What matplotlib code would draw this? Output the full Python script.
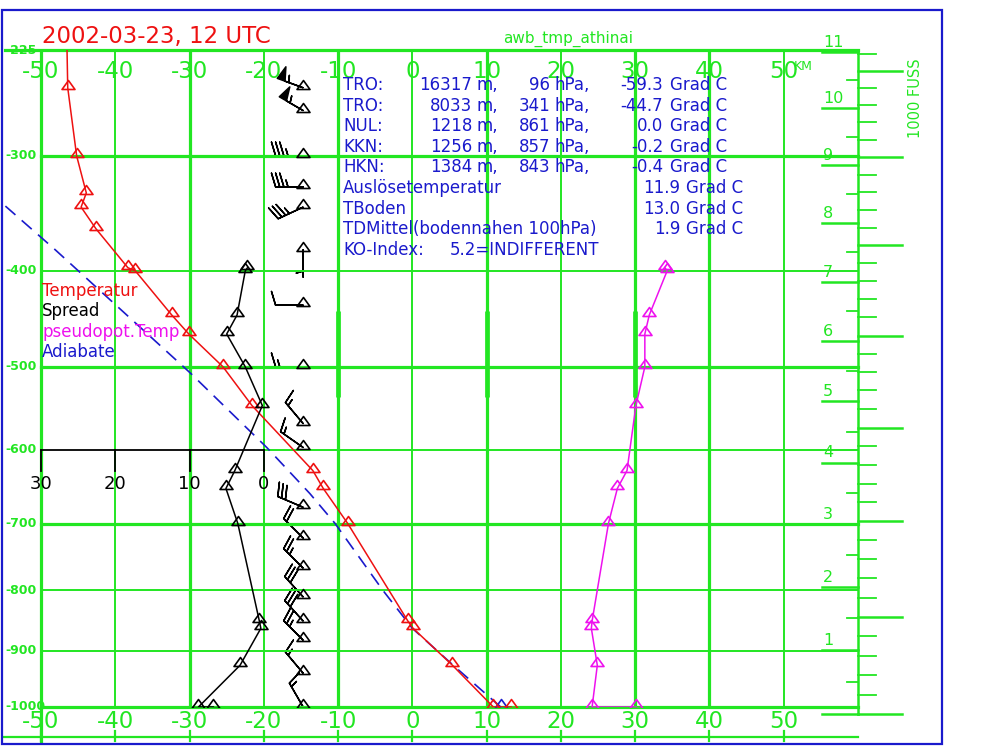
import numpy as np
import matplotlib
matplotlib.use("Agg")
import matplotlib.pyplot as plt
from matplotlib import transforms
from matplotlib.path import Path
from matplotlib.patches import Rectangle

# sounding levels in hPa, first value is the surface (drawn on the 1000 line)
pres = [1000, 1000, 925, 862, 850, 700, 651, 627, 545, 500, 464, 444, 400, 397,
        361, 342, 330, 300, 250, 200]
temp = [13.3, 10.9, 5.4, 0.1, -0.6, -8.7, -12.0, -13.4, -21.6, -25.5, -30.1,
        -32.4, -37.3, -38.3, -42.6, -44.6, -43.9, -45.2, -46.4, -46.6]
spread = [6.8, 8.8, 3.2, 0.4, 0.6, 3.5, 5.1, 3.9, 0.2, 2.5, 5.0, 3.6, 2.5, 2.2]
theta_e = [30.1, 24.2, 24.9, 24.1, 24.2, 26.4, 27.6, 28.9, 30.1, 31.3, 31.3,
           31.9, 34.3, 34.0]

# lifted parcel (Adiabate)
adiab_p = [1000, 925, 862, 800, 700, 658, 597, 507, 380, 340]
adiab_t = [11.9, 5.5, 0.0, -4.0, -10.4, -13.8, -19.6, -29.9, -48.1, -55.0]

# wind
wind_p = [250, 266, 300, 325, 342, 380, 434, 500, 567, 597, 677, 721, 766,
          811, 850, 882, 939, 1000]
wind_dir = [290, 300, 270, 270, 245, 180, 270, 270, 320, 305, 293, 315, 315,
            318, 318, 315, 320, 330]
wind_kt = [55, 55, 35, 35, 35, 5, 10, 15, 15, 15, 30, 20, 25, 30, 30, 25, 15, 15]

info_rows = [
    ("TRO:", "16317", "96", "-59.3"),
    ("TRO:", "8033", "341", "-44.7"),
    ("NUL:", "1218", "861", "0.0"),
    ("KKN:", "1256", "857", "-0.2"),
    ("HKN:", "1384", "843", "-0.4"),
]
extra_rows = [("Auslösetemperatur", "11.9"), ("TBoden", "13.0"),
              ("TDMittel(bodennahen 100hPa)", "1.9")]
ko_text = "5.2=INDIFFERENT"

temp_ticks = list(range(-50, 60, 10))
thick_t = [-50, -30, -10, 10, 30, 40]
pres_lines = [225, 300, 400, 500, 600, 700, 800, 900, 1000]
thick_p = [225, 300, 500, 700, 1000]
spread_ticks = [30, 20, 10, 0]
km_ticks = list(range(0, 12))
kft_ticks = list(range(0, 37))

GREEN = "#22e622"
RED = "#ee1111"
MAG = "#ee11ee"
BLUE = "#1a1acc"

W, H = 1000, 746
fig = plt.figure(figsize=(10, 7.46), dpi=100)
ax = fig.add_axes([41 / W, 1 - 707 / H, 817 / W, 657 / H])


def fwd(p):
    p = np.asarray(p, dtype=float)
    return np.sign(p) * np.abs(p) ** 0.286


def inv(s):
    s = np.asarray(s, dtype=float)
    return np.sign(s) * np.abs(s) ** (1 / 0.286)


ax.set_yscale("function", functions=(fwd, inv))
ax.set_xlim(-50, 60)
ax.set_ylim(1000, 225)
ax.axis("off")


def fy(px):
    return 1 - px / H


def tx(px):
    # pixel column -> temperature axis value
    return -50 + (px - 41) / 7.425


bt = transforms.blended_transform_factory(ax.transData, fig.transFigure)


def h2p(h):
    return 1013.25 * (1 - 2.25577e-5 * h) ** 5.25588


# frame
fig.patches.append(Rectangle((2 / W, fy(744)), 940 / W, 734 / H,
                             transform=fig.transFigure, fill=False,
                             edgecolor=BLUE, lw=1.6))

# temperature grid
for t in temp_ticks:
    lw = 2.3 if t in thick_t else 1.4
    ax.plot([t, t], [225, 1000], color=GREEN, lw=lw, clip_on=False,
            solid_capstyle="butt")
    ax.plot([t, t], [fy(731), fy(741)], color=GREEN, lw=1.6, transform=bt,
            clip_on=False)
    lab = str(t)
    ax.text(t, fy(72), lab, transform=bt, color=GREEN, fontsize=16.5,
            ha="center", va="center")
    ax.text(t, fy(721), lab, transform=bt, color=GREEN, fontsize=16.5,
            ha="center", va="center")
ax.plot([-50, -50], [fy(707), fy(742)], color=GREEN, lw=2.3, transform=bt,
        clip_on=False)
ax.plot([tx(3), 60], [fy(737), fy(737)], color=GREEN, lw=1.6, transform=bt,
        clip_on=False)
ax.text(tx(794), fy(67), "KM", transform=bt, color=GREEN, fontsize=9,
        ha="left", va="center")

# pressure grid
for p in pres_lines:
    lw = 2.3 if p in thick_p else 1.4
    x0 = tx(5) if p == 225 else -50
    if p == 600:
        ax.plot([-20, 60], [p, p], color=GREEN, lw=lw, clip_on=False)
        ax.plot([-50, -20], [p, p], color="black", lw=1.3, clip_on=False)
    else:
        ax.plot([x0, 60], [p, p], color=GREEN, lw=lw, clip_on=False)
    ax.text(tx(5), p, "-%d" % p, color=GREEN, fontsize=9, fontweight="bold",
            ha="left", va="center")

# thick marks on grid lines
for t in [-10, 10, 30]:
    ax.plot([t, t], [440, 535], color=GREEN, lw=3.4, solid_capstyle="butt")

# spread axis (0 spread at -20 C)
for s in spread_ticks:
    ax.plot([-20 - s, -20 - s], [600, 627], color="black", lw=1.3,
            clip_on=False)
    ax.text(-20 - s, 645, str(s), color="black", fontsize=13, ha="center",
            va="center")

# height axis on the right
ax.plot([60, 60], [225, h2p(0)], color=GREEN, lw=1.8, clip_on=False)
for k in km_ticks:
    p = h2p(k * 1000)
    ax.plot([tx(822), 60], [p, p], color=GREEN, lw=1.8, clip_on=False)
    ax.annotate(str(k), (tx(823), p), xytext=(0, 1.5),
                textcoords="offset points", color=GREEN, fontsize=11.5,
                ha="left", va="bottom")
    if k < 11:
        ph = h2p(k * 1000 + 500)
        ax.plot([tx(847), 60], [ph, ph], color=GREEN, lw=1.3, clip_on=False)
for k in kft_ticks:
    p = h2p(k * 304.8)
    if k % 5 == 0:
        ax.plot([60, tx(902)], [p, p], color=GREEN, lw=1.8, clip_on=False)
        ax.annotate(str(k), (tx(898), p), xytext=(0, 1.5),
                    textcoords="offset points", color=GREEN, fontsize=11.5,
                    ha="right", va="bottom")
    else:
        ax.plot([60, tx(876)], [p, p], color=GREEN, lw=1.3, clip_on=False)
fig.text(916 / W, fy(98), "1000 FUSS", color=GREEN, fontsize=10.5,
         rotation=90, ha="center", va="center")

# curves
tri = Path([(0, 1.6), (-1.3, -0.2), (1.3, -0.2), (0, 1.6)],
           [Path.MOVETO, Path.LINETO, Path.LINETO, Path.CLOSEPOLY])
mk = dict(marker=tri, ms=11.5, mfc="none", mew=1.2)

ax.plot(adiab_t, adiab_p, color=BLUE, lw=1.2, dashes=(8, 5), clip_on=False)
ax.plot(adiab_t[:1], adiab_p[:1], ls="none", mec=BLUE, **mk)
ax.plot(temp, pres, color=RED, lw=1.1, mec=RED, **mk)
ax.plot([-20 - s for s in spread], pres[:len(spread)], color="black", lw=1.1,
        mec="black", **mk)
ax.plot(theta_e, pres[:len(theta_e)], color=MAG, lw=1.1, mec=MAG, **mk)

# wind barbs
wx = np.full(len(wind_p), -14.7)
rad = np.deg2rad(wind_dir)
u = -np.array(wind_kt) * np.sin(rad)
v = -np.array(wind_kt) * np.cos(rad)
ax.barbs(wx, wind_p, u, v, length=6.3, pivot="tip", color="black", lw=1.1,
         sizes=dict(height=0.5, spacing=0.15, width=0.3, emptybarb=0.0),
         clip_on=False)
ax.plot(wx, wind_p, ls="none", mec="black", **mk)

# titles
fig.text(42 / W, fy(36), "2002-03-23, 12 UTC", color=RED, fontsize=16.5,
         ha="left", va="center")
fig.text(568 / W, fy(39), "awb_tmp_athinai", color=GREEN, fontsize=11,
         ha="center", va="center")

# legend texts
legend = [("Temperatur", RED), ("Spread", "black"), ("pseudopot.Temp", MAG),
          ("Adiabate", BLUE)]
for i, (name, col) in enumerate(legend):
    fig.text(42 / W, fy(291 + 20.5 * i), name, color=col, fontsize=12,
             ha="left", va="center")

# info block
fs = 12
for i, (lab, m, hpa, t) in enumerate(info_rows):
    y = fy(85 + 20.6 * i)
    fig.text(343 / W, y, lab, color=BLUE, fontsize=fs, va="center")
    fig.text(472 / W, y, m, color=BLUE, fontsize=fs, va="center", ha="right")
    fig.text(477 / W, y, "m,", color=BLUE, fontsize=fs, va="center")
    fig.text(550 / W, y, hpa, color=BLUE, fontsize=fs, va="center", ha="right")
    fig.text(555 / W, y, "hPa,", color=BLUE, fontsize=fs, va="center")
    fig.text(663 / W, y, t, color=BLUE, fontsize=fs, va="center", ha="right")
    fig.text(670 / W, y, "Grad C", color=BLUE, fontsize=fs, va="center")
for j, (lab, val) in enumerate(extra_rows):
    y = fy(85 + 20.6 * (5 + j))
    fig.text(343 / W, y, lab, color=BLUE, fontsize=fs, va="center")
    fig.text(680 / W, y, val, color=BLUE, fontsize=fs, va="center", ha="right")
    fig.text(686 / W, y, "Grad C", color=BLUE, fontsize=fs, va="center")
y = fy(85 + 20.6 * 8)
fig.text(343 / W, y, "KO-Index:", color=BLUE, fontsize=fs, va="center")
fig.text(450 / W, y, ko_text, color=BLUE, fontsize=fs, va="center")

fig.savefig("out.png", dpi=100)
